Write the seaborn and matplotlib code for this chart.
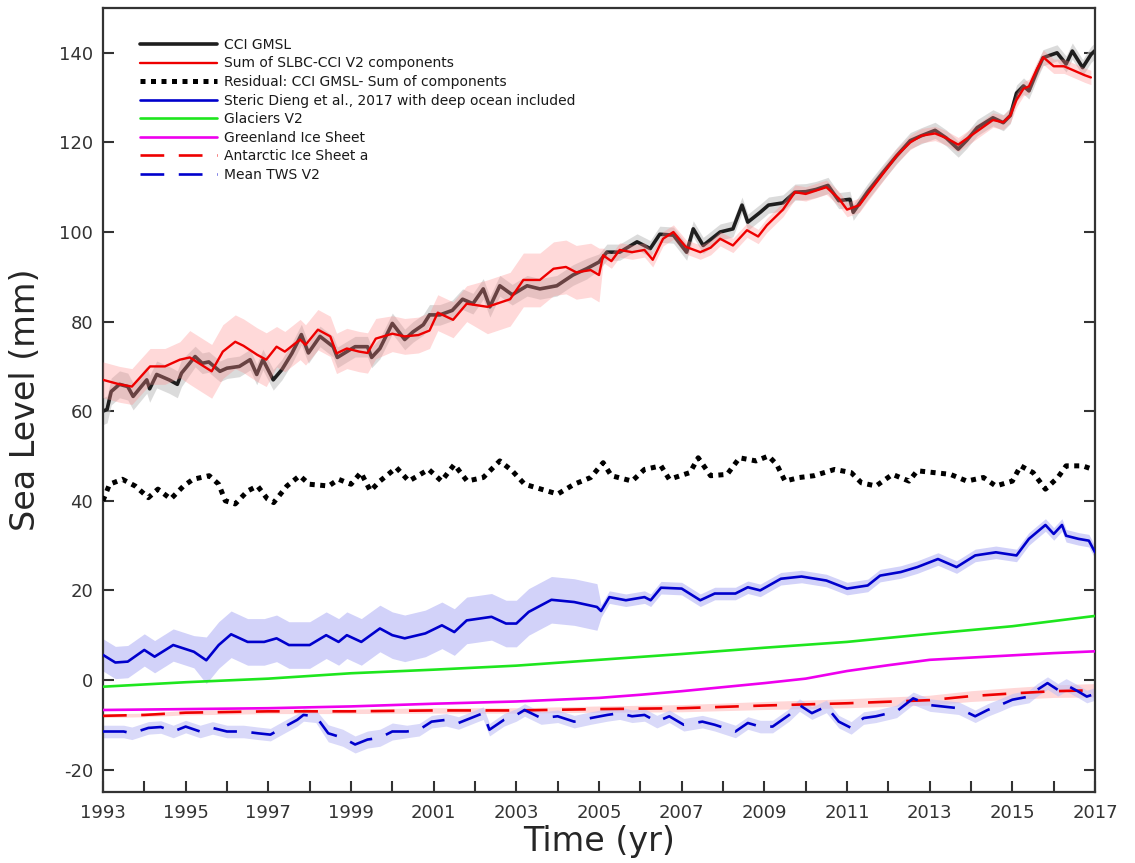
import numpy as np
import matplotlib
matplotlib.use("Agg")
import matplotlib.pyplot as plt
import seaborn as sns

# ---------------- data ----------------
gmsl_t = [1993.0, 1993.1, 1993.2, 1993.4, 1993.6, 1993.73, 1994.06, 1994.13, 1994.3, 1994.6,
          1994.8, 1994.9, 1995.23, 1995.4, 1995.56, 1995.83, 1996.0, 1996.3, 1996.56, 1996.72,
          1996.87, 1997.12, 1997.33, 1997.57, 1997.8, 1997.97, 1998.25, 1998.57, 1998.67, 1998.9,
          1999.1, 1999.4, 1999.5, 1999.7, 2000.0, 2000.3, 2000.5, 2000.75, 2000.9, 2001.15,
          2001.45, 2001.7, 2001.95, 2002.2, 2002.36, 2002.6, 2002.9, 2003.26, 2003.57, 2003.98,
          2004.37, 2004.7, 2005.0, 2005.19, 2005.5, 2005.92, 2006.24, 2006.47, 2006.8, 2007.12,
          2007.28, 2007.52, 2007.93, 2008.24, 2008.46, 2008.6, 2008.9, 2009.1, 2009.45, 2009.74,
          2010.0, 2010.25, 2010.54, 2010.8, 2011.07, 2011.15, 2011.5, 2011.87, 2012.2, 2012.53,
          2012.8, 2013.13, 2013.4, 2013.69, 2013.9, 2014.15, 2014.53, 2014.78, 2014.95, 2015.1,
          2015.27, 2015.4, 2015.6, 2015.74, 2016.08, 2016.3, 2016.45, 2016.7, 2016.9, 2017.0]
gmsl_v = [60, 60.4, 64.4, 66, 65.5, 63.3, 67, 65, 68.2, 67,
          66, 68.5, 72.2, 70.7, 71, 68.9, 69.6, 70, 71.5, 68.2,
          71.5, 67, 69.3, 72.9, 77.1, 73, 76.7, 74.4, 72, 73.3,
          74.4, 74.4, 72, 74, 79.6, 76, 77.7, 79.3, 81.5, 81.5,
          82.5, 85, 84, 87.3, 83.3, 88, 86, 88, 87.3, 88,
          90.4, 91.8, 93.3, 95.5, 95.5, 97.8, 96.3, 99.5, 99.3, 95.5,
          100.7, 97, 100, 100.7, 106, 102.2, 104.4, 106, 106.5, 108.9,
          109, 109.5, 110.4, 107, 107.3, 104.4, 109, 113.3, 117, 120.4,
          121.5, 122.7, 121, 118.5, 120.5, 123.3, 125.5, 124.4, 126, 131,
          132.6, 131.5, 136, 138.9, 140, 137.5, 140.4, 136.7, 139.6, 140.5]
gmsl_band_start = [1993.0, 1995.0, 2005.0]
gmsl_band_half = [3.0, 2.3, 1.8]

sum_t = [1993.0, 1993.4, 1993.7, 1994.14, 1994.5, 1994.86, 1995.1, 1995.63, 1995.9, 1996.2,
         1996.4, 1996.73, 1996.95, 1997.2, 1997.4, 1997.77, 1997.9, 1998.2, 1998.5, 1998.65,
         1998.9, 1999.2, 1999.4, 1999.6, 2000.0, 2000.3, 2000.63, 2000.9, 2001.1, 2001.47,
         2001.8, 2002.3, 2002.85, 2003.17, 2003.57, 2003.9, 2004.2, 2004.45, 2004.8, 2005.0,
         2005.1, 2005.3, 2005.5, 2005.8, 2006.1, 2006.3, 2006.55, 2006.8, 2007.1, 2007.45,
         2007.7, 2007.93, 2008.24, 2008.58, 2008.85, 2009.06, 2009.45, 2009.74, 2010.0, 2010.5,
         2010.8, 2011.0, 2011.3, 2011.5, 2011.87, 2012.2, 2012.53, 2012.8, 2013.13, 2013.4,
         2013.69, 2014.15, 2014.53, 2014.78, 2014.95, 2015.1, 2015.27, 2015.4, 2015.6, 2015.75,
         2016.0, 2016.25, 2016.5, 2016.75, 2016.9]
sum_v = [67, 66, 65.5, 70, 70, 71.5, 72, 68.9, 73.3, 75.5,
         74.6, 72.6, 71.5, 74.4, 73.3, 76, 74.8, 78.2, 76.7, 72.9,
         74, 73.3, 73, 76.2, 77.3, 76.7, 77, 78, 82, 80.4,
         84, 83.3, 85, 89.3, 89.3, 91.8, 92.2, 91, 91.5, 90.4,
         94.8, 93.5, 96, 95.5, 96, 93.8, 98.5, 100, 96.7, 95.5,
         96.5, 98.5, 97, 100.4, 99, 101.5, 105, 108.9, 108.5, 110,
         107.5, 105, 106, 108.5, 113, 117, 120, 121.5, 122, 121,
         119.5, 122.5, 125, 124.5, 126, 129.5, 132, 132.5, 136.5, 139,
         137, 137, 136, 135, 134.5]
sum_band_start = [1993.0, 1995.0, 1997.0, 2000.0, 2002.0, 2005.05]
sum_band_half = [4.0, 6.0, 4.5, 4.0, 6.0, 1.6]

res_t = [1993.0, 1993.16, 1993.47, 1993.78, 1994.1, 1994.33, 1994.64, 1994.95, 1995.18, 1995.57,
         1995.8, 1995.96, 1996.2, 1996.5, 1996.74, 1996.98, 1997.13, 1997.45, 1997.76, 1997.99,
         1998.46, 1998.7, 1999.0, 1999.24, 1999.47, 1999.7, 2000.1, 2000.4, 2000.88, 2001.19,
         2001.5, 2001.81, 2002.2, 2002.6, 2002.9, 2003.2, 2003.6, 2004.0, 2004.4, 2004.8,
         2005.1, 2005.3, 2005.8, 2006.1, 2006.5, 2006.7, 2007.2, 2007.4, 2007.7, 2008.1,
         2008.4, 2008.8, 2009.1, 2009.3, 2009.5, 2009.85, 2010.2, 2010.7, 2011.1, 2011.35,
         2011.7, 2012.1, 2012.5, 2012.7, 2013.1, 2013.5, 2013.9, 2014.3, 2014.6, 2015.0,
         2015.2, 2015.5, 2015.8, 2016.1, 2016.3, 2016.7, 2016.95]
res_v = [40, 43.7, 44.8, 43.3, 40.7, 42.6, 40.4, 43.3, 44.8, 45.6,
         43.7, 40, 39.3, 42.2, 43.3, 40.4, 39.6, 43.3, 45.6, 43.7,
         43.3, 44.8, 43.7, 46.3, 42.2, 44.4, 47.4, 44.4, 47, 44.4,
         48.1, 44.4, 45.2, 48.9, 46.7, 43.7, 42.6, 41.5, 43.7, 45.2,
         48.5, 45.6, 44.4, 47, 47.8, 44.8, 46.3, 49.6, 45.6, 45.9,
         49.6, 48.9, 50, 48.1, 44.4, 45.2, 45.6, 47, 46.3, 44,
         43.3, 45.9, 44.4, 46.7, 46.3, 45.9, 44.4, 45.2, 43.3, 44.4,
         47.8, 46.3, 42.6, 45.2, 47.8, 47.8, 47]

st_t = [1993.0, 1993.3, 1993.6, 1994.0, 1994.25, 1994.7, 1995.2, 1995.5, 1995.8, 1996.1,
        1996.5, 1996.9, 1997.2, 1997.5, 1998.0, 1998.4, 1998.7, 1998.9, 1999.25, 1999.7,
        2000.0, 2000.3, 2000.8, 2001.2, 2001.5, 2001.8, 2002.4, 2002.75, 2003.0, 2003.3,
        2003.85, 2004.4, 2004.95, 2005.05, 2005.25, 2005.65, 2006.1, 2006.25, 2006.5, 2007.0,
        2007.45, 2007.8, 2008.3, 2008.6, 2008.9, 2009.4, 2009.9, 2010.5, 2011.0, 2011.5,
        2011.8, 2012.3, 2012.7, 2013.2, 2013.65, 2014.1, 2014.6, 2015.1, 2015.4, 2015.8,
        2016.0, 2016.2, 2016.3, 2016.6, 2016.85, 2017.0]
st_v = [5.6, 3.9, 4.1, 6.7, 5.2, 7.8, 6.3, 4.4, 7.8, 10.2,
        8.5, 8.5, 9.3, 7.8, 7.8, 10, 8.5, 10, 8.5, 11.5,
        10, 9.3, 10.4, 12.2, 10.7, 13.3, 14.1, 12.6, 12.6, 15.2,
        17.9, 17.4, 16.3, 15.4, 18.5, 17.8, 18.5, 17.8, 20.6, 20.4,
        17.8, 19.3, 19.3, 20.7, 20, 22.6, 23.1, 22.2, 20.4, 21.1,
        23.3, 24.1, 25.2, 27, 25.2, 27.8, 28.5, 27.8, 31.5, 34.6,
        32.6, 34.6, 32.2, 31.5, 31.1, 28.5]
st_band_start = [1993.0, 1995.5, 2005.05]
st_band_half = [3.6, 5.2, 1.4]

gl_t = [1993, 1995, 1997, 1999, 2001, 2003, 2005, 2007, 2009, 2011, 2013, 2015, 2017]
gl_v = [-1.5, -0.5, 0.3, 1.5, 2.3, 3.2, 4.5, 5.8, 7.2, 8.5, 10.3, 12.0, 14.3]

gr_t = [1993, 1995, 1997, 1999, 2001, 2003, 2005, 2006, 2007, 2008, 2009, 2010, 2011,
        2012, 2013, 2014, 2015, 2016, 2017]
gr_v = [-6.7, -6.5, -6.3, -5.9, -5.3, -4.8, -4.0, -3.3, -2.5, -1.6, -0.7, 0.3, 2.0,
        3.3, 4.5, 5.0, 5.5, 6.0, 6.4]

an_t = [1993, 1994, 1995, 1997, 1999, 2001, 2003, 2005, 2007, 2009, 2011, 2013, 2014,
        2015, 2016, 2017]
an_v = [-8.0, -7.8, -7.3, -7.0, -7.0, -6.8, -6.8, -6.5, -6.3, -5.7, -5.2, -4.5, -3.6,
        -3.0, -2.5, -2.3]
an_s = [0.4, 0.4, 0.5, 0.5, 0.5, 0.6, 0.6, 0.7, 0.8, 0.9, 1.0, 1.1, 1.2, 1.3, 1.4, 1.5]

tws_t = [1993.0, 1993.5, 1993.7, 1994.1, 1994.4, 1994.7, 1995.0, 1995.35, 1995.65, 1996.0,
         1996.4, 1996.75, 1997.05, 1997.4, 1997.7, 1997.85, 1998.15, 1998.45, 1998.8, 1999.1,
         1999.4, 1999.7, 2000.0, 2000.35, 2000.65, 2000.95, 2001.3, 2001.6, 2001.9, 2002.2,
         2002.35, 2002.7, 2003.0, 2003.2, 2003.6, 2004.0, 2004.4, 2004.8, 2005.2, 2005.5,
         2005.8, 2006.1, 2006.4, 2006.7, 2007.05, 2007.5, 2007.8, 2008.3, 2008.6, 2008.9,
         2009.2, 2009.6, 2009.85, 2010.15, 2010.5, 2010.8, 2011.1, 2011.4, 2011.7, 2012.2,
         2012.6, 2013.0, 2013.3, 2013.7, 2014.1, 2014.4, 2014.7, 2015.0, 2015.4, 2015.6,
         2015.85, 2016.1, 2016.3, 2016.6, 2016.8, 2017.0]
tws_v = [-11.5, -11.5, -11.9, -10.7, -10.5, -11.5, -10.4, -11.5, -10.7, -11.5,
         -11.5, -11.9, -12.2, -10.4, -8.9, -7.8, -8.1, -11.9, -12.9, -14.4,
         -13.3, -12.9, -11.5, -11.5, -11.1, -9.3, -8.9, -9.6, -8.5, -7.4,
         -11.1, -8.9, -7.8, -6.7, -8.5, -8.1, -9.3, -8.5, -7.8, -7.4,
         -8.1, -7.8, -9.3, -8.1, -10, -9.3, -10, -11.5, -9.6, -10.4,
         -10.4, -7.8, -5.6, -7.4, -5.9, -9.3, -10.7, -8.5, -8.1, -7,
         -4.1, -5.6, -5.9, -6.3, -8.1, -6.7, -5.6, -4.4, -3.7, -2.2,
         -0.7, -2.2, -1.1, -2.6, -3.7, -3.1]
tws_band_start = [1993.0, 1998.3, 2000.3]
tws_band_half = [1.4, 1.9, 1.4]

labels = ["CCI GMSL", "Sum of SLBC-CCI V2 components",
          "Residual: CCI GMSL- Sum of components",
          "Steric Dieng et al., 2017 with deep ocean included",
          "Glaciers V2", "Greenland Ice Sheet", "Antarctic Ice Sheet a", "Mean TWS V2"]
year_ticks = list(range(1993, 2018))
y_ticks = [-20, 0, 20, 40, 60, 80, 100, 120, 140]


def half_width(t, starts, halves):
    idx = np.searchsorted(np.asarray(starts), np.asarray(t), side="right") - 1
    return np.asarray(halves)[np.clip(idx, 0, len(halves) - 1)]


# ---------------- figure ----------------
sns.set_theme(style="ticks")
plt.rcParams["font.family"] = ["DejaVu Sans"]
fig = plt.figure(figsize=(11.35, 8.63), dpi=100)
ax = fig.add_axes([0.0907, 0.0823, 0.8741, 0.9084])

dash = (0, (9, 5.5))
handles = []

# GMSL band + line
t = np.asarray(gmsl_t); v = np.asarray(gmsl_v); h = half_width(t, gmsl_band_start, gmsl_band_half)
ax.fill_between(t, v - h, v + h, color="#c4c4c4", alpha=0.6, lw=0, zorder=1)
sns.lineplot(x=t, y=v, ax=ax, color="#1e1e1e", lw=2.6, estimator=None, sort=False, zorder=2)
handles.append(ax.lines[-1])

# Sum band + line
t = np.asarray(sum_t); v = np.asarray(sum_v); h = half_width(t, sum_band_start, sum_band_half)
ax.fill_between(t, v - h, v + h, color="#ff8c8c", alpha=0.33, lw=0, zorder=3)
sns.lineplot(x=t, y=v, ax=ax, color="#ee0000", lw=1.7, estimator=None, sort=False, zorder=4)
handles.append(ax.lines[-1])

# Residual
sns.lineplot(x=res_t, y=res_v, ax=ax, color="black", lw=3.6, estimator=None, sort=False,
             linestyle=(0, (1, 1.1)), zorder=4)
handles.append(ax.lines[-1])

# Steric
t = np.asarray(st_t); v = np.asarray(st_v); h = half_width(t, st_band_start, st_band_half)
ax.fill_between(t, v - h, v + h, color="#b4b4f6", alpha=0.6, lw=0, zorder=1)
sns.lineplot(x=t, y=v, ax=ax, color="#0000cc", lw=1.9, estimator=None, sort=False, zorder=4)
handles.append(ax.lines[-1])

# Glaciers
sns.lineplot(x=gl_t, y=gl_v, ax=ax, color="#1ee61e", lw=1.9, estimator=None, sort=False, zorder=4)
handles.append(ax.lines[-1])

# Greenland
sns.lineplot(x=gr_t, y=gr_v, ax=ax, color="#ee00ee", lw=1.9, estimator=None, sort=False, zorder=4)
handles.append(ax.lines[-1])

# Antarctic
t = np.asarray(an_t); v = np.asarray(an_v); h = np.asarray(an_s)
ax.fill_between(t, v - h, v + h, color="#ffb0b0", alpha=0.5, lw=0, zorder=1)
sns.lineplot(x=t, y=v, ax=ax, color="#ee0000", lw=1.9, estimator=None, sort=False,
             linestyle=dash, zorder=4)
handles.append(ax.lines[-1])

# TWS
t = np.asarray(tws_t); v = np.asarray(tws_v); h = half_width(t, tws_band_start, tws_band_half)
ax.fill_between(t, v - h, v + h, color="#c0c0f6", alpha=0.6, lw=0, zorder=1)
sns.lineplot(x=t, y=v, ax=ax, color="#0000cc", lw=1.9, estimator=None, sort=False,
             linestyle=dash, zorder=4)
handles.append(ax.lines[-1])

# ---------------- axes styling ----------------
ax.set_xlim(1993, 2017)
ax.set_ylim(-25, 150)
ax.set_xticks(year_ticks)
ax.set_xticklabels([str(y) if (y - 1993) % 2 == 0 else "" for y in year_ticks])
ax.set_yticks(y_ticks)
ax.set_yticklabels([str(y) for y in y_ticks])
ax.tick_params(direction="in", length=8, width=1.5, colors="#333333", labelsize=13,
               right=True, pad=7)
ax.tick_params(axis="x", pad=9)
for sp in ax.spines.values():
    sp.set_visible(True)
    sp.set_linewidth(1.6)
    sp.set_color("#333333")
ax.set_xlabel("Time (yr)", fontsize=24, color="#262626", labelpad=2)
ax.set_ylabel("Sea Level (mm)", fontsize=24, color="#262626", labelpad=12)

leg = ax.legend(handles, labels, loc="upper left", bbox_to_anchor=(0.037, 0.962),
                frameon=False, fontsize=10, handlelength=5.6, handletextpad=0.5,
                labelspacing=0.33, borderpad=0, borderaxespad=0)
for txt in leg.get_texts():
    txt.set_color("#1a1a1a")

fig.savefig("out.png", dpi=100)
